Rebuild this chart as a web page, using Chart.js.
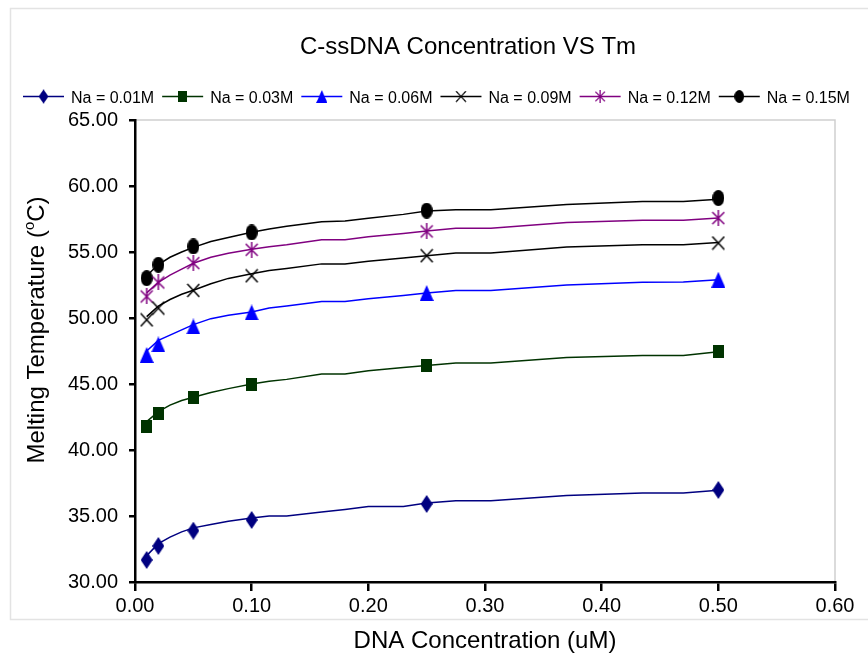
<!DOCTYPE html>
<html>
<head>
<meta charset="utf-8">
<script src="https://cdn.jsdelivr.net/npm/chart.js@4/dist/chart.umd.min.js"></script>
<style>
  html, body { margin: 0; padding: 0; background: #ffffff; }
  #wrap { width: 868px; height: 658px; position: relative; }
</style>
</head>
<body>
<div id="wrap"><canvas id="c" width="868" height="658"></canvas></div>
<script>
// Measured melting temperatures at each DNA concentration (uM)
const concentrations = [0.01, 0.02, 0.05, 0.10, 0.25, 0.50];
const tmNa001 = [31.67, 32.73, 33.89, 34.70, 35.91, 36.97];
const tmNa003 = [41.77, 42.79, 44.00, 44.94, 46.38, 47.44];
const tmNa006 = [47.20, 48.00, 49.36, 50.42, 51.89, 52.90];
const tmNa009 = [49.86, 50.75, 52.09, 53.20, 54.72, 55.68];
const tmNa012 = [51.63, 52.69, 54.16, 55.17, 56.56, 57.57];
const tmNa015 = [53.02, 54.03, 55.42, 56.48, 58.13, 59.09];

// Predicted curves
const curveX = [0.01, 0.02, 0.03, 0.04, 0.05, 0.065, 0.08, 0.10, 0.115, 0.13, 0.16, 0.18, 0.20, 0.23, 0.25, 0.275, 0.305, 0.37, 0.435, 0.47, 0.50];
const curveNa001 = [32.00, 32.90, 33.40, 33.80, 34.10, 34.35, 34.60, 34.85, 35.00, 35.00, 35.30, 35.50, 35.72, 35.72, 35.98, 36.15, 36.15, 36.55, 36.75, 36.75, 36.95];
const curveNa003 = [42.15, 42.90, 43.40, 43.75, 44.00, 44.35, 44.65, 45.00, 45.20, 45.35, 45.75, 45.75, 46.00, 46.25, 46.40, 46.60, 46.60, 47.00, 47.15, 47.15, 47.45];
const curveNa006 = [47.50, 48.30, 48.70, 49.10, 49.50, 49.95, 50.20, 50.45, 50.75, 50.90, 51.25, 51.25, 51.45, 51.70, 51.90, 52.08, 52.08, 52.50, 52.70, 52.72, 52.90];
const curveNa009 = [50.10, 50.90, 51.40, 51.80, 52.10, 52.60, 53.00, 53.35, 53.60, 53.75, 54.10, 54.10, 54.30, 54.55, 54.72, 54.92, 54.92, 55.38, 55.55, 55.55, 55.72];
const curveNa012 = [51.90, 52.70, 53.25, 53.70, 54.15, 54.60, 54.90, 55.20, 55.40, 55.55, 55.93, 55.93, 56.15, 56.40, 56.60, 56.79, 56.79, 57.24, 57.40, 57.40, 57.57];
const curveNa015 = [53.20, 54.05, 54.60, 55.00, 55.35, 55.80, 56.10, 56.50, 56.75, 56.95, 57.30, 57.35, 57.55, 57.85, 58.10, 58.20, 58.20, 58.60, 58.82, 58.82, 59.00];

const seriesNames = ['Na = 0.01M', 'Na = 0.03M', 'Na = 0.06M', 'Na = 0.09M', 'Na = 0.12M', 'Na = 0.15M'];
const chartTitle = 'C-ssDNA Concentration VS Tm';
const xTitle = 'DNA Concentration (uM)';
const yTitleParts = ['Melting Temperature (', 'o', 'C)'];

const measured = [tmNa001, tmNa003, tmNa006, tmNa009, tmNa012, tmNa015];
const curves = [curveNa001, curveNa003, curveNa006, curveNa009, curveNa012, curveNa015];
const colors = ['#000080', '#003300', '#0000ff', '#000000', '#800080', '#000000'];
const markerKinds = ['diamond', 'square', 'triangle', 'cross', 'star', 'circle'];

const FONT = '"Liberation Sans", Arial, sans-serif';

// Small canvases used as point markers
function makeMarker(kind, color) {
  const sizes = {
    diamond: [12, 18], square: [11, 13], triangle: [14, 16],
    cross: [14, 15], star: [14, 16], circle: [12, 16]
  };
  const [w, h] = sizes[kind];
  const cv = document.createElement('canvas');
  cv.width = w; cv.height = h;
  const g = cv.getContext('2d');
  g.fillStyle = color; g.strokeStyle = color;
  g.lineWidth = 1.5;
  g.beginPath();
  if (kind === 'diamond') {
    g.moveTo(w / 2, 0); g.lineTo(w, h / 2); g.lineTo(w / 2, h); g.lineTo(0, h / 2); g.closePath(); g.fill();
  } else if (kind === 'square') {
    g.fillRect(0, 0, w, h);
  } else if (kind === 'triangle') {
    g.moveTo(w / 2, 0); g.lineTo(w, h); g.lineTo(0, h); g.closePath(); g.fill();
  } else if (kind === 'cross') {
    g.moveTo(1, 1); g.lineTo(w - 1, h - 1); g.moveTo(w - 1, 1); g.lineTo(1, h - 1); g.stroke();
  } else if (kind === 'star') {
    g.moveTo(1, 2); g.lineTo(w - 1, h - 2); g.moveTo(w - 1, 2); g.lineTo(1, h - 2);
    g.moveTo(w / 2, 0); g.lineTo(w / 2, h); g.stroke();
  } else if (kind === 'circle') {
    g.ellipse(w / 2, h / 2, w / 2, h / 2, 0, 0, Math.PI * 2); g.fill();
  }
  return cv;
}
const markers = markerKinds.map((k, i) => makeMarker(k, colors[i]));

const datasets = [];
measured.forEach((vals, i) => {
  datasets.push({
    type: 'scatter',
    label: seriesNames[i],
    data: concentrations.map((x, j) => ({ x: x, y: vals[j] })),
    pointStyle: markers[i],
    showLine: false,
    borderColor: colors[i],
    backgroundColor: colors[i]
  });
});
curves.forEach((vals, i) => {
  datasets.push({
    type: 'line',
    label: seriesNames[i] + ' curve',
    data: curveX.map((x, j) => ({ x: x, y: vals[j] })),
    borderColor: colors[i],
    borderWidth: 1.5,
    pointRadius: 0,
    tension: 0,
    fill: false
  });
});

// Frames, title, legend and axis titles
const decorations = {
  id: 'decorations',
  beforeDraw(chart) {
    const ctx = chart.ctx;
    const a = chart.chartArea;
    ctx.save();
    ctx.fillStyle = '#ffffff';
    ctx.fillRect(0, 0, chart.width, chart.height);
    ctx.strokeStyle = '#e3e3e3';
    ctx.lineWidth = 1.5;
    ctx.beginPath();
    ctx.moveTo(chart.width, 8.5); ctx.lineTo(10.5, 8.5); ctx.lineTo(10.5, 619.5); ctx.lineTo(chart.width, 619.5);
    ctx.stroke();
    ctx.strokeStyle = '#cfcfcf';
    ctx.lineWidth = 1.5;
    ctx.beginPath();
    ctx.moveTo(a.left, a.top); ctx.lineTo(a.right, a.top); ctx.lineTo(a.right, a.bottom);
    ctx.stroke();
    ctx.restore();
  },
  afterDraw(chart) {
    const ctx = chart.ctx;
    const a = chart.chartArea;
    ctx.save();
    ctx.fillStyle = '#000000';
    ctx.textBaseline = 'middle';

    // title
    ctx.font = '24px ' + FONT;
    ctx.textAlign = 'center';
    ctx.fillText(chartTitle, 468, 47);

    // legend
    ctx.font = '16px ' + FONT;
    ctx.textAlign = 'left';
    let x = 23;
    const ly = 96.5;
    seriesNames.forEach((name, i) => {
      ctx.strokeStyle = colors[i];
      ctx.lineWidth = 1.5;
      ctx.beginPath();
      ctx.moveTo(x, ly); ctx.lineTo(x + 41, ly);
      ctx.stroke();
      const m = markers[i];
      const s = 0.8;
      ctx.drawImage(m, x + 20.5 - m.width * s / 2, ly - m.height * s / 2, m.width * s, m.height * s);
      ctx.fillStyle = '#000000';
      ctx.fillText(name, x + 48, ly + 2.5);
      x += 48 + ctx.measureText(name).width + 8;
    });

    // x axis title
    ctx.font = '24px ' + FONT;
    ctx.textAlign = 'center';
    ctx.fillText(xTitle, (a.left + a.right) / 2, 641);

    // y axis title with superscript
    ctx.translate(37, 330);
    ctx.rotate(-Math.PI / 2);
    const big = '24px ' + FONT, small = '15px ' + FONT;
    ctx.font = big;
    const w1 = ctx.measureText(yTitleParts[0]).width;
    const w3 = ctx.measureText(yTitleParts[2]).width;
    ctx.font = small;
    const w2 = ctx.measureText(yTitleParts[1]).width;
    let tx = -(w1 + w2 + w3) / 2;
    ctx.textAlign = 'left';
    ctx.font = big;
    ctx.fillText(yTitleParts[0], tx, 0);
    tx += w1;
    ctx.font = small;
    ctx.fillText(yTitleParts[1], tx, -7);
    tx += w2;
    ctx.font = big;
    ctx.fillText(yTitleParts[2], tx, 0);
    ctx.restore();
  }
};

Chart.defaults.font.family = FONT;
Chart.defaults.color = '#000000';

new Chart(document.getElementById('c'), {
  data: { datasets: datasets },
  options: {
    responsive: false,
    animation: false,
    layout: { padding: { top: 120, left: 0, right: 33, bottom: 0 } },
    plugins: { legend: { display: false }, title: { display: false }, tooltip: { enabled: false } },
    scales: {
      x: {
        type: 'linear',
        min: 0, max: 0.6,
        ticks: { stepSize: 0.1, callback: v => Number(v).toFixed(2), font: { size: 20 }, padding: 3, color: '#000' },
        grid: { drawOnChartArea: false, drawTicks: true, tickLength: 9, color: '#000', lineWidth: 2.5 },
        border: { color: '#000', width: 2.5 },
        afterFit(scale) { scale.height = 76; }
      },
      y: {
        type: 'linear',
        min: 30, max: 65,
        ticks: { stepSize: 5, callback: v => Number(v).toFixed(2), font: { size: 20 }, padding: 11, color: '#000' },
        grid: { drawOnChartArea: false, drawTicks: true, tickLength: 6, color: '#000', lineWidth: 2.5 },
        border: { color: '#000', width: 2.5 },
        afterFit(scale) { scale.width = 135; }
      }
    }
  },
  plugins: [decorations]
});
</script>
</body>
</html>
